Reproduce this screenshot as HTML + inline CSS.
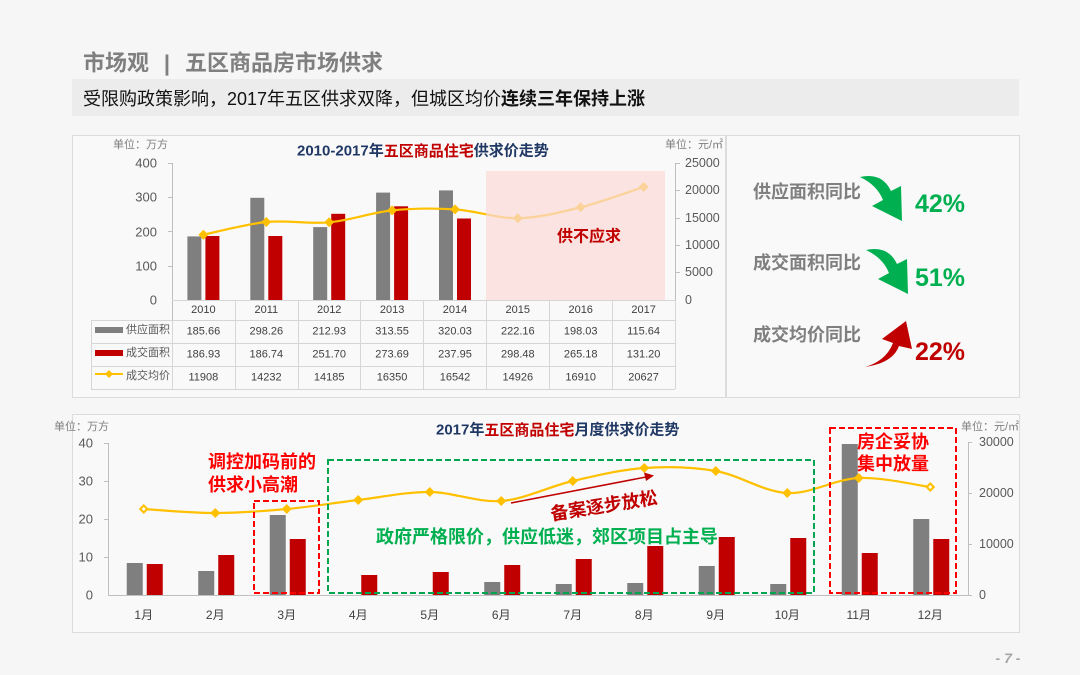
<!DOCTYPE html>
<html><head><meta charset="utf-8">
<style>
html,body{margin:0;padding:0;background:#f6f6f6;}
svg{display:block;}
text{font-family:"Liberation Sans","Noto Sans CJK SC",sans-serif;}
</style></head>
<body>
<svg width="1080" height="675" viewBox="0 0 1080 675" xmlns="http://www.w3.org/2000/svg">
<rect x="0" y="0" width="1080" height="675" fill="#f6f6f6"/>
<!-- header -->
<text x="83" y="63" font-size="22" font-weight="bold" fill="#7f7f7f" dominant-baseline="central">市场观</text>
<text x="167" y="63" font-size="22" font-weight="bold" fill="#7f7f7f" text-anchor="middle" dominant-baseline="central">|</text>
<text x="185" y="63" font-size="22" font-weight="bold" fill="#7f7f7f" dominant-baseline="central">五区商品房市场供求</text>
<rect x="72" y="79" width="947" height="37" fill="#ececec"/>
<text x="83" y="99" font-size="18" fill="#111" dominant-baseline="central">受限购政策影响，2017年五区供求双降，但城区均价<tspan font-weight="bold">连续三年保持上涨</tspan></text>

<!-- panels -->
<rect x="72.5" y="135.5" width="653" height="262" fill="#f9f9f9" stroke="#dcdcdc"/>
<rect x="726.5" y="135.5" width="293" height="262" fill="#f9f9f9" stroke="#dcdcdc"/>
<rect x="72.5" y="414.5" width="947" height="218" fill="#f9f9f9" stroke="#dcdcdc"/>

<!-- ===== TOP CHART ===== -->
<text x="113" y="145" font-size="11" fill="#7f7f7f" dominant-baseline="central">单位：万方</text>
<text x="665" y="145" font-size="11" fill="#7f7f7f" dominant-baseline="central">单位：元/㎡</text>
<text x="297" y="151" font-size="15" font-weight="bold" fill="#203864" dominant-baseline="central">2010-2017年<tspan fill="#c00000">五区商品住宅</tspan>供求价走势</text>

<g font-size="13" fill="#595959" text-anchor="end" dominant-baseline="central">
<text x="157" y="163">400</text><text x="157" y="197">300</text><text x="157" y="232">200</text><text x="157" y="266">100</text><text x="157" y="300">0</text>
</g>
<g font-size="12.5" fill="#595959" dominant-baseline="central">
<text x="685" y="163">25000</text><text x="685" y="190">20000</text><text x="685" y="218">15000</text><text x="685" y="245">10000</text><text x="685" y="272">5000</text><text x="685" y="300">0</text>
</g>
<g stroke="#bfbfbf" stroke-width="1">
<line x1="172.5" y1="163" x2="172.5" y2="320"/>
<line x1="168" y1="163.5" x2="172" y2="163.5"/><line x1="168" y1="197.5" x2="172" y2="197.5"/><line x1="168" y1="231.5" x2="172" y2="231.5"/><line x1="168" y1="266.5" x2="172" y2="266.5"/>
<line x1="675.5" y1="163" x2="675.5" y2="320"/>
<line x1="675" y1="163.5" x2="680" y2="163.5"/><line x1="675" y1="190.5" x2="680" y2="190.5"/><line x1="675" y1="218.5" x2="680" y2="218.5"/><line x1="675" y1="245.5" x2="680" y2="245.5"/><line x1="675" y1="272.5" x2="680" y2="272.5"/>
</g>
<!-- bars top -->
<g fill="#7f7f7f">
<rect x="187.4" y="236.4" width="14" height="63.6"/>
<rect x="250.3" y="197.8" width="14" height="102.2"/>
<rect x="313.2" y="227.1" width="14" height="72.9"/>
<rect x="376.1" y="192.6" width="14" height="107.4"/>
<rect x="439.0" y="190.4" width="14" height="109.6"/>
</g>
<g fill="#c00000">
<rect x="205.4" y="236.0" width="14" height="64.0"/>
<rect x="268.3" y="236.0" width="14" height="64.0"/>
<rect x="331.2" y="213.8" width="14" height="86.2"/>
<rect x="394.1" y="206.3" width="14" height="93.7"/>
<rect x="457.0" y="218.5" width="14" height="81.5"/>
</g>
<!-- price line top -->
<path d="M203.4,234.7 C213.9,232.6 245.3,224.1 266.3,222.0 C287.3,219.9 308.2,224.2 329.2,222.3 C350.2,220.4 371.1,212.55 392.1,210.4 C413.1,208.25 434.05,208.1 455.0,209.4 C475.95,210.7 496.85,218.55 517.8,218.2 C538.75,217.85 559.73,212.5 580.7,207.3 C601.67,202.1 633.1,190.4 643.6,187.0" fill="none" stroke="#ffc000" stroke-width="2.2"/>
<g fill="#ffc000">
<path d="M203.4,229.7 l5,5 -5,5 -5,-5z"/>
<path d="M266.3,217.0 l5,5 -5,5 -5,-5z"/>
<path d="M329.2,217.3 l5,5 -5,5 -5,-5z"/>
<path d="M392.1,205.4 l5,5 -5,5 -5,-5z"/>
<path d="M455.0,204.4 l5,5 -5,5 -5,-5z"/>
<path d="M517.8,213.2 l5,5 -5,5 -5,-5z"/>
<path d="M580.7,202.3 l5,5 -5,5 -5,-5z"/>
<path d="M643.6,182.0 l5,5 -5,5 -5,-5z"/>
</g>
<rect x="486" y="171" width="179" height="129" fill="#f9d9d5" opacity="0.72"/>
<text x="589" y="237" font-size="16" font-weight="bold" fill="#c00000" text-anchor="middle" dominant-baseline="central">供不应求</text>

<!-- table -->
<g stroke="#d6d6d6" stroke-width="1">
<line x1="172" y1="300.5" x2="675" y2="300.5"/>
<line x1="91" y1="320.5" x2="675" y2="320.5"/>
<line x1="91" y1="343.5" x2="675" y2="343.5"/>
<line x1="91" y1="366.5" x2="675" y2="366.5"/>
<line x1="91" y1="389.5" x2="675" y2="389.5"/>
<line x1="91.5" y1="320" x2="91.5" y2="389"/>
<line x1="172.5" y1="320" x2="172.5" y2="389"/>
<line x1="235.5" y1="300" x2="235.5" y2="389"/>
<line x1="298.5" y1="300" x2="298.5" y2="389"/>
<line x1="360.5" y1="300" x2="360.5" y2="389"/>
<line x1="423.5" y1="300" x2="423.5" y2="389"/>
<line x1="486.5" y1="300" x2="486.5" y2="389"/>
<line x1="549.5" y1="300" x2="549.5" y2="389"/>
<line x1="612.5" y1="300" x2="612.5" y2="389"/>
<line x1="675.5" y1="300" x2="675.5" y2="389"/>
</g>
<g font-size="11" fill="#404040" text-anchor="middle" dominant-baseline="central">
<text x="203.4" y="310">2010</text><text x="266.3" y="310">2011</text><text x="329.2" y="310">2012</text><text x="392.1" y="310">2013</text><text x="455" y="310">2014</text><text x="517.8" y="310">2015</text><text x="580.7" y="310">2016</text><text x="643.6" y="310">2017</text>
<text x="203.4" y="331.5">185.66</text><text x="266.3" y="331.5">298.26</text><text x="329.2" y="331.5">212.93</text><text x="392.1" y="331.5">313.55</text><text x="455" y="331.5">320.03</text><text x="517.8" y="331.5">222.16</text><text x="580.7" y="331.5">198.03</text><text x="643.6" y="331.5">115.64</text>
<text x="203.4" y="354.5">186.93</text><text x="266.3" y="354.5">186.74</text><text x="329.2" y="354.5">251.70</text><text x="392.1" y="354.5">273.69</text><text x="455" y="354.5">237.95</text><text x="517.8" y="354.5">298.48</text><text x="580.7" y="354.5">265.18</text><text x="643.6" y="354.5">131.20</text>
<text x="203.4" y="377.5">11908</text><text x="266.3" y="377.5">14232</text><text x="329.2" y="377.5">14185</text><text x="392.1" y="377.5">16350</text><text x="455" y="377.5">16542</text><text x="517.8" y="377.5">14926</text><text x="580.7" y="377.5">16910</text><text x="643.6" y="377.5">20627</text>
</g>
<rect x="95" y="327" width="28" height="6" fill="#7f7f7f"/>
<rect x="95" y="350" width="28" height="6" fill="#c00000"/>
<line x1="95" y1="374" x2="123" y2="374" stroke="#ffc000" stroke-width="2"/>
<path d="M109,370 l4,4 -4,4 -4,-4z" fill="#ffc000"/>
<g font-size="11" fill="#595959" dominant-baseline="central">
<text x="126" y="330">供应面积</text><text x="126" y="353">成交面积</text><text x="126" y="376">成交均价</text>
</g>

<!-- ===== RIGHT PANEL ===== -->
<g font-size="18" font-weight="bold" fill="#7f7f7f" dominant-baseline="central">
<text x="753" y="192">供应面积同比</text>
<text x="753" y="263">成交面积同比</text>
<text x="753" y="335">成交均价同比</text>
</g>
<path d="M860,177 Q882,172 891,191 L901,186 L902,221 L872,206 L883,200 Q877,185 860,177 Z" fill="#00b050"/>
<path d="M866,250 Q888,245 897,264 L907,259 L908,294 L878,279 L889,273 Q883,258 866,250 Z" fill="#00b050"/>
<path d="M865,367 Q893,363 899,346 L912,349 L906,321 L882,339 L893,343 Q886,361 865,367 Z" fill="#c00000"/>
<g font-size="25" font-weight="bold" dominant-baseline="central">
<text x="915" y="204" fill="#00b050">42%</text>
<text x="915" y="278" fill="#00b050">51%</text>
<text x="915" y="352" fill="#c00000">22%</text>
</g>

<!-- ===== BOTTOM CHART ===== -->
<text x="54" y="427" font-size="11" fill="#7f7f7f" dominant-baseline="central">单位：万方</text>
<text x="961" y="427" font-size="11" fill="#7f7f7f" dominant-baseline="central">单位：元/㎡</text>
<text x="436" y="430" font-size="15" font-weight="bold" fill="#203864" dominant-baseline="central">2017年<tspan fill="#c00000">五区商品住宅</tspan>月度供求价走势</text>
<g font-size="13" fill="#595959" text-anchor="end" dominant-baseline="central">
<text x="93" y="443">40</text><text x="93" y="481">30</text><text x="93" y="519">20</text><text x="93" y="557">10</text><text x="93" y="595">0</text>
</g>
<g font-size="12.5" fill="#595959" dominant-baseline="central">
<text x="979" y="442">30000</text><text x="979" y="493">20000</text><text x="979" y="544">10000</text><text x="979" y="595">0</text>
</g>
<g stroke="#bfbfbf" stroke-width="1">
<line x1="108.5" y1="443" x2="108.5" y2="595"/>
<line x1="104" y1="443.5" x2="108" y2="443.5"/><line x1="104" y1="481.5" x2="108" y2="481.5"/><line x1="104" y1="519.5" x2="108" y2="519.5"/><line x1="104" y1="557.5" x2="108" y2="557.5"/>
<line x1="108" y1="595.5" x2="968" y2="595.5"/>
<line x1="968.5" y1="442" x2="968.5" y2="595"/>
<line x1="968" y1="442.5" x2="972" y2="442.5"/><line x1="968" y1="493.5" x2="972" y2="493.5"/><line x1="968" y1="544.5" x2="972" y2="544.5"/><line x1="968" y1="595.5" x2="972" y2="595.5"/>
</g>
<g fill="#7f7f7f">
<rect x="126.75" y="563" width="16" height="32"/>
<rect x="198.25" y="571" width="16" height="24"/>
<rect x="269.75" y="515" width="16" height="80"/>
<rect x="484.25" y="582" width="16" height="13"/>
<rect x="555.75" y="584" width="16" height="11"/>
<rect x="627.25" y="583" width="16" height="12"/>
<rect x="698.75" y="566" width="16" height="29"/>
<rect x="770.25" y="584" width="16" height="11"/>
<rect x="841.75" y="444" width="16" height="151"/>
<rect x="913.25" y="519" width="16" height="76"/>
</g>
<g fill="#c00000">
<rect x="146.75" y="564" width="16" height="31"/>
<rect x="218.25" y="555" width="16" height="40"/>
<rect x="289.75" y="539" width="16" height="56"/>
<rect x="361.25" y="575" width="16" height="20"/>
<rect x="432.75" y="572" width="16" height="23"/>
<rect x="504.25" y="565" width="16" height="30"/>
<rect x="575.75" y="559" width="16" height="36"/>
<rect x="647.25" y="546" width="16" height="49"/>
<rect x="718.75" y="537" width="16" height="58"/>
<rect x="790.25" y="538" width="16" height="57"/>
<rect x="861.75" y="553" width="16" height="42"/>
<rect x="933.25" y="539" width="16" height="56"/>
</g>
<path d="M143.75,509 C155.67,509.67 191.42,513 215.25,513 C239.08,513 262.92,511.17 286.75,509 C310.58,506.83 334.42,502.83 358.25,500 C382.08,497.17 405.92,491.83 429.75,492 C453.58,492.17 477.42,502.83 501.25,501 C525.08,499.17 548.92,486.5 572.75,481 C596.58,475.5 620.42,469.67 644.25,468 C668.08,466.33 691.92,466.83 715.75,471 C739.58,475.17 763.42,491.83 787.25,493 C811.08,494.17 834.92,479 858.75,478 C882.58,477 918.33,485.5 930.25,487" fill="none" stroke="#ffc000" stroke-width="2.2"/>
<g fill="#ffc000">
<path d="M143.75,504 l5,5 -5,5 -5,-5z"/>
<path d="M215.25,508 l5,5 -5,5 -5,-5z"/>
<path d="M286.75,504 l5,5 -5,5 -5,-5z"/>
<path d="M358.25,495 l5,5 -5,5 -5,-5z"/>
<path d="M429.75,487 l5,5 -5,5 -5,-5z"/>
<path d="M501.25,496 l5,5 -5,5 -5,-5z"/>
<path d="M572.75,476 l5,5 -5,5 -5,-5z"/>
<path d="M644.25,463 l5,5 -5,5 -5,-5z"/>
<path d="M715.75,466 l5,5 -5,5 -5,-5z"/>
<path d="M787.25,488 l5,5 -5,5 -5,-5z"/>
<path d="M858.75,473 l5,5 -5,5 -5,-5z"/>
<path d="M930.25,482 l5,5 -5,5 -5,-5z"/>
</g>
<g fill="#fff">
<path d="M143.75,507 l2,2 -2,2 -2,-2z"/>
<path d="M930.25,485 l2,2 -2,2 -2,-2z"/>
</g>
<!-- annotations -->
<rect x="254" y="501" width="65" height="92" fill="none" stroke="#ff0000" stroke-width="2" stroke-dasharray="6,3"/>
<rect x="328" y="460" width="486" height="133" fill="none" stroke="#00a550" stroke-width="2" stroke-dasharray="6,3"/>
<rect x="830" y="428" width="126" height="165" fill="none" stroke="#ff0000" stroke-width="2" stroke-dasharray="6,3"/>
<g font-size="18" font-weight="bold" fill="#ff0000" dominant-baseline="central">
<text x="208" y="462">调控加码前的</text>
<text x="208" y="485">供求小高潮</text>
<text x="857" y="442">房企妥协</text>
<text x="857" y="464">集中放量</text>
</g>
<text x="376" y="537" font-size="18" font-weight="bold" fill="#00b050" dominant-baseline="central">政府严格限价，供应低迷，郊区项目占主导</text>
<line x1="511" y1="503" x2="646" y2="477" stroke="#c00000" stroke-width="1.5"/>
<path d="M654,475.5 L644,472.5 L646,481 Z" fill="#c00000"/>
<text x="604" y="506" font-size="18" font-weight="bold" fill="#c00000" text-anchor="middle" dominant-baseline="central" transform="rotate(-9 604 506)">备案逐步放松</text>
<g font-size="12" fill="#404040" text-anchor="middle" dominant-baseline="central">
<text x="143.75" y="615">1月</text><text x="215.25" y="615">2月</text><text x="286.75" y="615">3月</text><text x="358.25" y="615">4月</text><text x="429.75" y="615">5月</text><text x="501.25" y="615">6月</text><text x="572.75" y="615">7月</text><text x="644.25" y="615">8月</text><text x="715.75" y="615">9月</text><text x="787.25" y="615">10月</text><text x="858.75" y="615">11月</text><text x="930.25" y="615">12月</text>
</g>
<text x="1008" y="658" font-size="14" font-weight="bold" font-style="italic" fill="#a6a6a6" text-anchor="middle" dominant-baseline="central">- 7 -</text>
</svg>
</body></html>
